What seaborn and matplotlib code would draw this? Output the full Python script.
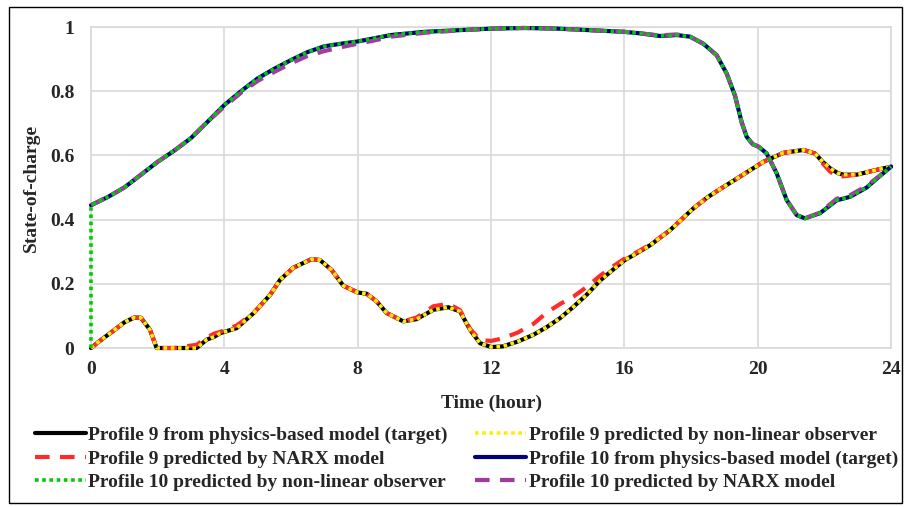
import numpy as np
import pandas as pd
import matplotlib
matplotlib.use("Agg")
import matplotlib.pyplot as plt
from matplotlib.patches import Rectangle
import seaborn as sns

# Profile 9 (time in hours, state-of-charge)
p9_time = [0, 0.3, 0.65, 1.0, 1.3, 1.5, 1.77, 1.97, 2.5, 3.17, 3.47, 3.7, 3.87, 4.37,
           4.87, 5.37, 5.67, 6.07, 6.62, 6.87, 7.22, 7.57, 8.0, 8.27, 8.57, 8.87,
           9.37, 9.77, 10.27, 10.72, 11.07, 11.37, 11.67, 12.0, 12.35, 12.8, 13.27,
           13.67, 14.07, 14.47, 14.87, 15.27, 15.67, 16.0, 16.4, 16.77, 17.37, 18.07,
           18.5, 18.87, 19.47, 20.17, 20.77, 21.37, 21.72, 21.95, 22.17, 22.4, 22.57,
           22.97, 23.57, 24.0]
p9_target = [0.0, 0.025, 0.052, 0.08, 0.095, 0.094, 0.057, 0.0, 0.0, 0.0, 0.026, 0.035,
             0.046, 0.062, 0.108, 0.165, 0.212, 0.25, 0.277, 0.274, 0.243, 0.194, 0.173,
             0.169, 0.145, 0.109, 0.083, 0.09, 0.119, 0.127, 0.114, 0.057, 0.015, 0.003,
             0.005, 0.02, 0.041, 0.065, 0.093, 0.128, 0.166, 0.21, 0.245, 0.273, 0.297,
             0.32, 0.367, 0.435, 0.47, 0.495, 0.534, 0.58, 0.608, 0.617, 0.606, 0.58,
             0.56, 0.545, 0.54, 0.54, 0.555, 0.565]
p9_observer = list(p9_target)
p9_narx = [0.0, 0.025, 0.052, 0.08, 0.095, 0.094, 0.057, 0.0, 0.0, 0.01, 0.032, 0.045,
           0.05, 0.07, 0.108, 0.165, 0.212, 0.25, 0.277, 0.274, 0.243, 0.194, 0.173,
           0.169, 0.145, 0.109, 0.083, 0.095, 0.13, 0.138, 0.118, 0.06, 0.025, 0.022,
           0.03, 0.048, 0.075, 0.11, 0.137, 0.16, 0.19, 0.225, 0.255, 0.278, 0.3,
           0.322, 0.367, 0.435, 0.47, 0.495, 0.534, 0.58, 0.608, 0.617, 0.606, 0.575,
           0.55, 0.532, 0.535, 0.54, 0.555, 0.565]

# Profile 10
p10_time = [0, 0.5, 1, 1.5, 2, 2.5, 3, 3.5, 4, 4.5, 5, 5.5, 6, 6.5, 7, 7.5, 8, 8.5,
            9, 10, 11, 12, 13, 14, 15, 16, 16.5, 17.07, 17.57, 17.97, 18.37, 18.77,
            19.07, 19.32, 19.52, 19.67, 19.85, 20.03, 20.27, 20.57, 20.87, 21.17,
            21.42, 21.87, 22.37, 22.77, 23.27, 23.6, 24.0]
p10_target = [0.445, 0.47, 0.5, 0.54, 0.58, 0.615, 0.654, 0.705, 0.757, 0.8, 0.84, 0.87,
              0.897, 0.922, 0.94, 0.948, 0.955, 0.965, 0.975, 0.985, 0.99, 0.995, 0.997,
              0.995, 0.99, 0.985, 0.98, 0.972, 0.975, 0.97, 0.948, 0.912, 0.855, 0.786,
              0.703, 0.658, 0.635, 0.627, 0.606, 0.544, 0.461, 0.414, 0.404, 0.42, 0.46,
              0.471, 0.5, 0.53, 0.565]
p10_narx = [0.445, 0.47, 0.5, 0.54, 0.58, 0.615, 0.654, 0.705, 0.752, 0.795, 0.832, 0.86,
            0.887, 0.91, 0.925, 0.937, 0.948, 0.958, 0.97, 0.982, 0.989, 0.995, 0.997,
            0.995, 0.99, 0.985, 0.98, 0.974, 0.977, 0.97, 0.948, 0.912, 0.855, 0.786,
            0.703, 0.658, 0.635, 0.627, 0.606, 0.544, 0.461, 0.414, 0.404, 0.422, 0.465,
            0.476, 0.505, 0.532, 0.565]
# observer starts from 0 and jumps to the initial state
p10_obs_time = [0] + p10_time
p10_observer = [0.0] + p10_target

sns.set_style("white")
plt.rcParams['font.family'] = ['Liberation Serif', 'DejaVu Serif']
plt.rcParams['font.weight'] = 'bold'

fig = plt.figure(figsize=(9.07, 5.07), dpi=100)
ax = fig.add_axes([0.1003, 0.3136, 0.8821, 0.6331])

series = [
    ("Profile 9 from physics-based model (target)", p9_time, p9_target,
     dict(color="black", linewidth=3.0, linestyle="-")),
    ("Profile 9 predicted by NARX model", p9_time, p9_narx,
     dict(color="#ff2a2a", linewidth=3.0, linestyle=(0, (3.5, 2.5)))),
    ("Profile 9 predicted by non-linear observer", p9_time, p9_observer,
     dict(color="#ffee00", linewidth=2.6, linestyle=(0, (1, 1)))),
    ("Profile 10 from physics-based model (target)", p10_time, p10_target,
     dict(color="#000080", linewidth=3.0, linestyle="-")),
    ("Profile 10 predicted by NARX model", p10_time, p10_narx,
     dict(color="#a03ca0", linewidth=3.0, linestyle=(0, (3.5, 2.5)))),
    ("Profile 10 predicted by non-linear observer", p10_obs_time, p10_observer,
     dict(color="#00cc00", linewidth=2.6, linestyle=(0, (1, 1)))),
]

handles = {}
for label, t, v, style in series:
    df = pd.DataFrame({"t": t, "soc": v})
    sns.lineplot(data=df, x="t", y="soc", ax=ax, sort=False, estimator=None,
                 label=label, clip_on=False, zorder=3, **style)
    handles[label] = ax.get_lines()[-1]

ax.set_xlim(0, 24)
ax.set_ylim(0, 1)
ax.set_xticks(range(0, 25, 4))
ax.set_yticks([0, 0.2, 0.4, 0.6, 0.8, 1.0])
ax.set_yticklabels(["0", "0.2", "0.4", "0.6", "0.8", "1"])
ax.grid(True, color="#d9d9d9", linewidth=1.2)
ax.set_axisbelow(True)
for s in ax.spines.values():
    s.set_color("#d9d9d9")
    s.set_linewidth(1.2)
    s.set_zorder(0.5)
ax.tick_params(axis="both", length=0, labelsize=14)
ax.tick_params(axis="y", pad=12)
ax.tick_params(axis="x", pad=9.5)
for lab in ax.get_xticklabels() + ax.get_yticklabels():
    lab.set_fontweight("bold")
ax.set_xlabel("Time (hour)", fontsize=14, fontweight="bold", labelpad=12)
ax.set_ylabel("State-of-charge", fontsize=14, fontweight="bold", labelpad=7)

order = ["Profile 9 from physics-based model (target)",
         "Profile 9 predicted by NARX model",
         "Profile 10 predicted by non-linear observer",
         "Profile 9 predicted by non-linear observer",
         "Profile 10 from physics-based model (target)",
         "Profile 10 predicted by NARX model"]
ax.legend([handles[k] for k in order], order, ncol=2, frameon=False,
          loc="upper left", bbox_to_anchor=(-0.07, -0.245),
          prop=dict(size=14, weight="bold"), handlelength=2.6,
          handletextpad=0.15, columnspacing=1.4, labelspacing=0.3,
          borderpad=0, borderaxespad=0)

fig.patches.append(Rectangle((9 / 907, 4 / 507), 893 / 907, 496 / 507,
                             transform=fig.transFigure, fill=False,
                             edgecolor="black", linewidth=1.0))

fig.savefig("out.png", dpi=100)
